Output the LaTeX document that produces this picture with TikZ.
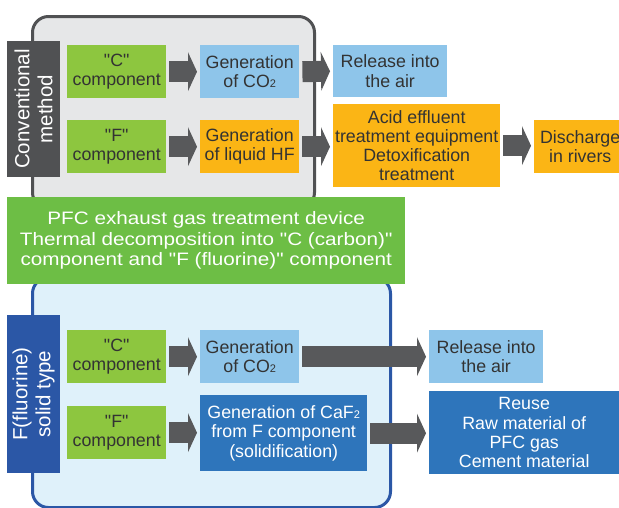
\documentclass[tikz,border=0pt]{standalone}
\usepackage{fontspec}
\setmainfont{Liberation Sans}[Ligatures=TeXOff]
\newfontfamily\bandfont{Liberation Sans}[FakeStretch=1.15,Ligatures=TeXOff]
\usetikzlibrary{arrows.meta}
\definecolor{cgreen}{HTML}{8DC63F}
\definecolor{bandgreen}{HTML}{6DBE45}
\definecolor{lblue}{HTML}{8EC5EA}
\definecolor{orng}{HTML}{FBB515}
\definecolor{dblue}{HTML}{2E75BB}
\definecolor{navy}{HTML}{2B57A6}
\definecolor{dgray}{HTML}{505153}
\definecolor{agray}{HTML}{58595B}
\definecolor{boxgray}{HTML}{E6E7E8}
\definecolor{paleblue}{HTML}{DFF1FA}
\definecolor{txt}{HTML}{333333}
\newcommand\subtwo{{\fontsize{11}{11}\selectfont 2}}
\tikzset{
  box/.style={inner sep=0pt, align=center, anchor=north west, text=txt,
    font=\fontsize{17.8}{19.2}\selectfont},
  darkbox/.style={box, text=white},
  sidelabel/.style={rotate=90, inner sep=0pt, align=center, text=white,
    font=\fontsize{20.5}{23}\selectfont, minimum height=53pt},
  container/.style={rounded corners=16pt, line width=3pt, inner sep=0pt, anchor=north west},
  blk/.style={line width=21pt, draw=agray, shorten <=3pt, shorten >=3pt,
    -{Triangle[length=9pt,width=39pt,line width=0pt]}},
}
\begin{document}
\begin{tikzpicture}[x=1pt,y=-1pt]
\useasboundingbox (0,0) rectangle (619,507);
\begin{scope}
\clip (0,0) rectangle (619,507);
% containers
\node[container, draw=dgray, fill=boxgray, minimum width=282pt, minimum height=192pt] (topbox) at (31,15) {};
\node[container, draw=navy, fill=paleblue, minimum width=358pt, minimum height=230pt] (botbox) at (31,276) {};
% side labels
\node[sidelabel, fill=dgray, minimum width=136pt] (conv) at (33.5,109) {Conventional\\method};
\node[sidelabel, fill=navy, minimum width=158pt] (fsolid) at (33.5,394) {F(fluorine)\\solid type};
% top rows
\node[box, fill=cgreen, minimum width=99pt, minimum height=53pt] (c1) at (67,45) {"C"\\component};
\node[box, fill=lblue, minimum width=99pt, minimum height=53pt] (co2a) at (200,45) {Generation\\of CO\subtwo};
\node[box, fill=cgreen, minimum width=99pt, minimum height=53pt] (f1) at (67,120) {"F"\\component};
\node[box, fill=orng, minimum width=99pt, minimum height=53pt] (hf) at (200,120) {Generation\\of liquid HF};
\node[box, fill=lblue, minimum width=114pt, minimum height=52pt] (rel1) at (333,45) {Release into\\the air};
\node[box, fill=orng, minimum width=167pt, minimum height=83pt] (acid) at (333,104) {Acid effluent\\treatment equipment\\Detoxification\\treatment};
\node[box, fill=orng, minimum width=92pt, minimum height=53pt] (dis) at (534,120) {Discharge\\in rivers};
% band
\node[box, fill=bandgreen, text=white, minimum width=398pt, minimum height=87pt,
  font=\bandfont\fontsize{18}{20.5}\selectfont] (band) at (7,197)
  {PFC exhaust gas treatment device\\Thermal decomposition into "C (carbon)"\\component and "F (fluorine)" component};
% bottom rows
\node[box, fill=cgreen, minimum width=99pt, minimum height=53pt] (c2) at (67,330) {"C"\\component};
\node[box, fill=lblue, minimum width=99pt, minimum height=53pt] (co2b) at (200,330) {Generation\\of CO\subtwo};
\node[box, fill=cgreen, minimum width=99pt, minimum height=53pt] (f2) at (67,406) {"F"\\component};
\node[darkbox, fill=dblue, minimum width=167pt, minimum height=76pt] (caf) at (200,395) {Generation of CaF\subtwo\\from F component\\(solidification)};
\node[box, fill=lblue, minimum width=114pt, minimum height=53pt] (rel2) at (429,330) {Release into\\the air};
\node[darkbox, fill=dblue, minimum width=190pt, minimum height=83pt] (reuse) at (429,391) {Reuse\\Raw material of\\PFC gas\\Cement material};
% arrows
\draw[blk] (c1.east) -- (co2a.west);
\draw[blk] (f1.east) -- (hf.west);
\draw[blk] (co2a.east) -- (rel1.west);
\draw[blk] (hf.east) -- (hf.east -| acid.west);
\draw[blk] (acid.east) -- (acid.east -| dis.west);
\draw[blk] (c2.east) -- (co2b.west);
\draw[blk] (f2.east) -- (f2.east -| caf.west);
\draw[blk] (co2b.east) -- (rel2.west);
\draw[blk] (caf.east) -- (caf.east -| reuse.west);
\end{scope}
\end{tikzpicture}
\end{document}
